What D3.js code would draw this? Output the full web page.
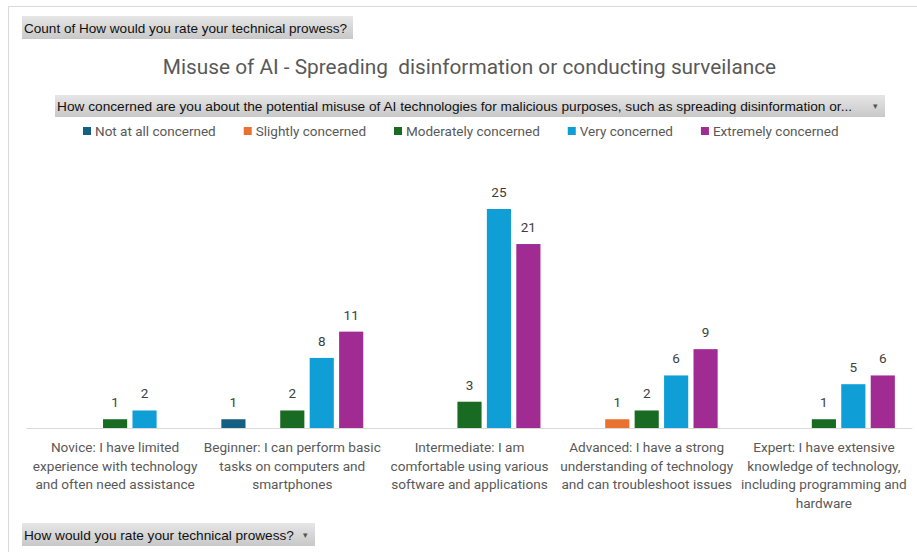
<!DOCTYPE html>
<html><head><meta charset="utf-8">
<script src="https://cdn.jsdelivr.net/npm/d3@7"></script>
<style>
html,body{margin:0;padding:0;background:#fff;}
svg{display:block;}
</style></head>
<body>
<script>
const categories = [
  ["Novice: I have limited", "experience with technology", "and often need assistance"],
  ["Beginner: I can perform basic", "tasks on computers and", "smartphones"],
  ["Intermediate: I am", "comfortable using various", "software and applications"],
  ["Advanced: I have a strong", "understanding of technology", "and can troubleshoot issues"],
  ["Expert: I have extensive", "knowledge of technology,", "including programming and", "hardware"]
];
const seriesNames = ["Not at all concerned", "Slightly concerned", "Moderately concerned", "Very concerned", "Extremely concerned"];
const notAtAll   = [0, 1, 0, 0, 0];
const slightly   = [0, 0, 0, 1, 0];
const moderately = [1, 2, 3, 2, 1];
const very       = [2, 8, 25, 6, 5];
const extremely  = [0, 11, 21, 9, 6];
const seriesColors = ["#156082", "#E97132", "#196B24", "#0F9ED5", "#A02B93"];
const titleText = "Misuse of AI - Spreading\u00A0 disinformation or conducting surveilance";
const valueButtonText = "Count of How would you rate your technical prowess?";
const legendButtonText = "How concerned are you about the potential misuse of AI technologies for malicious purposes, such as spreading disinformation or...";
const axisButtonText = "How would you rate your technical prowess?";

const seriesValues = [notAtAll, slightly, moderately, very, extremely];
const W = 917, H = 552;
const FONT = "Roboto, 'Noto Sans', sans-serif";
const BTNFONT = "'Liberation Sans', Arial, sans-serif";
const GRAY = "#595959";

const svg = d3.select("body").append("svg").attr("width", W).attr("height", H);

// chart border
svg.append("path").attr("d", "M8.5,552 V6.5 H917").attr("fill", "none").attr("stroke", "#d9d9d9").attr("stroke-width", 1);

const defs = svg.append("defs");
const grad = defs.append("linearGradient").attr("id", "btn").attr("x1", 0).attr("x2", 0).attr("y1", 0).attr("y2", 1);
grad.append("stop").attr("offset", "0%").attr("stop-color", "#e6e6e6");
grad.append("stop").attr("offset", "100%").attr("stop-color", "#c8c8c8");

function button(x, y, w, h, text, arrow, fs) {
  const g = svg.append("g");
  g.append("rect").attr("x", x).attr("y", y).attr("width", w).attr("height", h).attr("fill", "url(#btn)");
  g.append("text").attr("x", x + 2).attr("y", y + h / 2 + 5).attr("font-family", BTNFONT).attr("font-size", fs)
    .attr("fill", "#111").text(text);
  if (arrow) {
    g.append("text").attr("x", x + w - 10).attr("y", y + h / 2 + 3).attr("font-family", BTNFONT).attr("font-size", 9)
      .attr("fill", "#555").attr("text-anchor", "middle").text("▾");
  }
}
button(22, 16, 331, 23, valueButtonText, false, 13.55);
button(55, 95, 830, 22, legendButtonText, true, 13.7);
button(22, 523, 293, 23, axisButtonText, true, 13.65);

// title
svg.append("text").attr("x", 469.5).attr("y", 74).attr("text-anchor", "middle")
  .attr("font-family", FONT).attr("font-size", 20.8).attr("fill", GRAY).text(titleText);

// legend
const legend = svg.append("g");
let lx = 83;
seriesNames.forEach((name, i) => {
  legend.append("rect").attr("x", lx).attr("y", 127).attr("width", 8).attr("height", 8).attr("fill", seriesColors[i]);
  const t = legend.append("text").attr("x", lx + 12).attr("y", 136).attr("font-family", FONT).attr("font-size", 13.5)
    .attr("fill", GRAY).text(name);
  lx += 12 + t.node().getComputedTextLength() + 28;
});

// scales
const x0 = d3.scaleBand().domain(d3.range(categories.length)).range([26.5, 912.5]).paddingInner(0).paddingOuter(0);
const x1 = d3.scaleBand().domain(d3.range(seriesNames.length)).range([15, x0.bandwidth() - 15]).paddingInner(0.18).paddingOuter(0.09);
const y = d3.scaleLinear().domain([0, 25]).range([428, 209]);

// bars
const bars = svg.append("g");
seriesValues.forEach((vals, s) => {
  vals.forEach((v, c) => {
    if (!v) return;
    const bx = x0(c) + x1(s);
    bars.append("rect").attr("x", bx).attr("y", y(v)).attr("width", x1.bandwidth()).attr("height", y(0) - y(v))
      .attr("fill", seriesColors[s]);
    bars.append("text").attr("x", bx + x1.bandwidth() / 2).attr("y", y(v) - 12).attr("text-anchor", "middle")
      .attr("font-family", FONT).attr("font-size", 13.5).attr("fill", "#404040").text(v);
  });
});

// axis
const axis = svg.append("g").attr("transform", "translate(0,428)")
  .call(d3.axisBottom(x0).tickSize(0).tickFormat(""));
axis.select(".domain").attr("stroke", "#d9d9d9").attr("d", "M26.5,0.5H912.5");

const labels = svg.append("g");
categories.forEach((lines, c) => {
  const t = labels.append("text").attr("text-anchor", "middle").attr("font-family", FONT).attr("font-size", 13.6).attr("fill", GRAY);
  lines.forEach((ln, k) => {
    t.append("tspan").attr("x", x0(c) + x0.bandwidth() / 2).attr("y", 452 + k * 18.6).text(ln);
  });
});
</script>
</body></html>
